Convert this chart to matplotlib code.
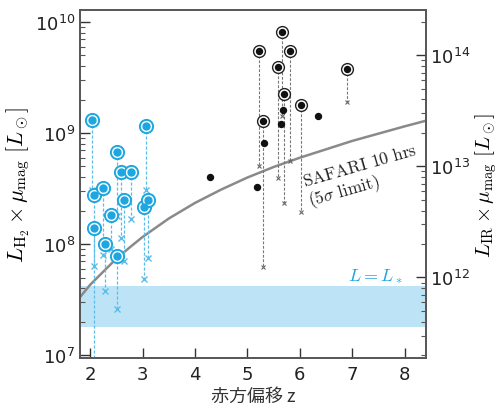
import numpy as np
import matplotlib
matplotlib.use('Agg')
import matplotlib.pyplot as plt

# lensed sources near z~2-3 (cyan): observed (circled) and intrinsic (x)
cyan_z = [2.03, 2.07, 2.07, 2.24, 2.29, 2.40, 2.52, 2.52, 2.58, 2.64, 2.77, 3.03, 3.07, 3.10]
cyan_obs = [1.31e9, 2.78e8, 1.41e8, 3.2e8, 1.0e8, 1.82e8, 6.8e8, 7.8e7, 4.5e8, 2.5e8, 4.5e8, 2.14e8, 1.15e9, 2.5e8]
cyan_int = [3.1e8, 5.0e6, 6.4e7, 8.0e7, 3.8e7, 9.0e7, 1.8e8, 2.6e7, 1.13e8, 7.0e7, 1.7e8, 4.9e7, 3.1e8, 7.5e7]

# high-z lensed sources (black)
blk_z = [5.22, 5.30, 5.58, 5.66, 5.70, 5.82, 6.03, 6.89]
blk_obs = [5.5e9, 1.28e9, 3.9e9, 8.1e9, 2.26e9, 5.5e9, 1.78e9, 3.75e9]
blk_int = [5.1e8, 6.2e7, 3.95e8, 1.42e9, 2.34e8, 5.6e8, 1.94e8, 1.9e9]

# unlensed high-z sources
dot_z = [4.29, 5.18, 5.31, 5.67, 5.64, 6.34]
dot_L = [4.0e8, 3.3e8, 8.1e8, 1.6e9, 1.21e9, 1.43e9]

# SAFARI 10 hr 5 sigma limit
saf_z = [1.8, 2.0, 2.25, 2.5, 2.75, 3.0, 3.5, 4.0, 4.5, 5.0, 5.5, 6.0, 7.0, 8.0, 8.4]
saf_L = [3.3e7, 4.3e7, 5.65e7, 7.4e7, 9.3e7, 1.16e8, 1.7e8, 2.35e8, 3.1e8, 3.98e8, 4.95e8, 6.0e8, 8.5e8, 1.15e9, 1.29e9]

# L = L* band
band_lo = 1.8e7
band_hi = 4.2e7

ir_factor = 10**4.3

cyan = '#1da6e0'
cyan_l = '#5bbde8'

fig = plt.figure(figsize=(4.98, 4.10), dpi=100)
ax = fig.add_axes([0.161, 0.124, 0.694, 0.849])

ax.axhspan(band_lo, band_hi, color='#bde4f6', lw=0, zorder=1)
ax.plot(saf_z, saf_L, color='#8a8a8a', lw=1.8, zorder=2)

for z, o, i in zip(cyan_z, cyan_obs, cyan_int):
    ax.plot([z, z], [o, i], ls=(0, (2.5, 1.5)), color=cyan_l, lw=0.9, zorder=3)
ax.plot(cyan_z, cyan_int, 'x', color=cyan_l, ms=4, mew=1.0, zorder=4)
ax.plot(cyan_z, cyan_obs, 'o', mfc='white', mec=cyan, ms=9.5, mew=1.4, zorder=5)
ax.plot(cyan_z, cyan_obs, 'o', color=cyan, ms=5, zorder=6)

for z, o, i in zip(blk_z, blk_obs, blk_int):
    ax.plot([z, z], [o, i], ls=(0, (2.5, 1.5)), color='#777777', lw=0.8, zorder=3)
ax.plot(blk_z, blk_int, 'x', color='#666666', ms=3.5, mew=0.8, zorder=4)
ax.plot(blk_z, blk_obs, 'o', mfc='white', mec='#222222', ms=8.5, mew=1.0, zorder=5)
ax.plot(blk_z, blk_obs, 'o', color='#111111', ms=4.3, zorder=6)
ax.plot(dot_z, dot_L, 'o', color='#111111', ms=4.3, zorder=6)

ax.set_yscale('log')
ax.set_xlim(1.81, 8.4)
ax.set_ylim(9.4e6, 1.28e10)
ax.set_xticks([2, 3, 4, 5, 6, 7, 8])

ax.text(7.2, 4.1e8, r'$\mathrm{SAFARI\ 10\ hrs}$' + '\n' + r'$\mathrm{(5\sigma\ limit)}$',
        rotation=16, fontsize=12.5, color='#222222', ha='center', va='center',
        multialignment='left', math_fontfamily='cm', linespacing=1.0)
ax.text(7.95, 5.3e7, r'$L = L_*$', color=cyan, fontsize=13, ha='right', va='center',
        math_fontfamily='cm')

ax.set_ylabel(r'$L_{\rm H_2} \times \mu_{\rm mag}\ [L_\odot]$', fontsize=16,
              math_fontfamily='cm', labelpad=2)
ax.set_xlabel('赤方偏移 z', fontsize=13, family=['Noto Sans CJK JP', 'DejaVu Sans'],
              color='#333333', labelpad=3)

ax2 = ax.twinx()
ax2.set_yscale('log')
ax2.set_ylim(9.4e6 * ir_factor, 1.28e10 * ir_factor)
ax2.set_ylabel(r'$L_{\rm IR} \times \mu_{\rm mag}\ [L_\odot]$', fontsize=15,
               math_fontfamily='cm', labelpad=2)

for a in (ax, ax2):
    a.tick_params(which='major', direction='in', length=7, width=1.0, labelsize=13,
                  colors='#333333', labelcolor='#222222')
    a.tick_params(which='minor', direction='in', length=3.5, width=0.8, colors='#555555')
    for s in a.spines.values():
        s.set_color('#555555')
        s.set_linewidth(1.2)
ax.tick_params(axis='y', which='both', right=False)
ax.tick_params(axis='x', which='both', top=False)
ax.tick_params(axis='x', pad=5)
ax2.tick_params(axis='y', pad=3)

fig.savefig('out.png', dpi=100)
